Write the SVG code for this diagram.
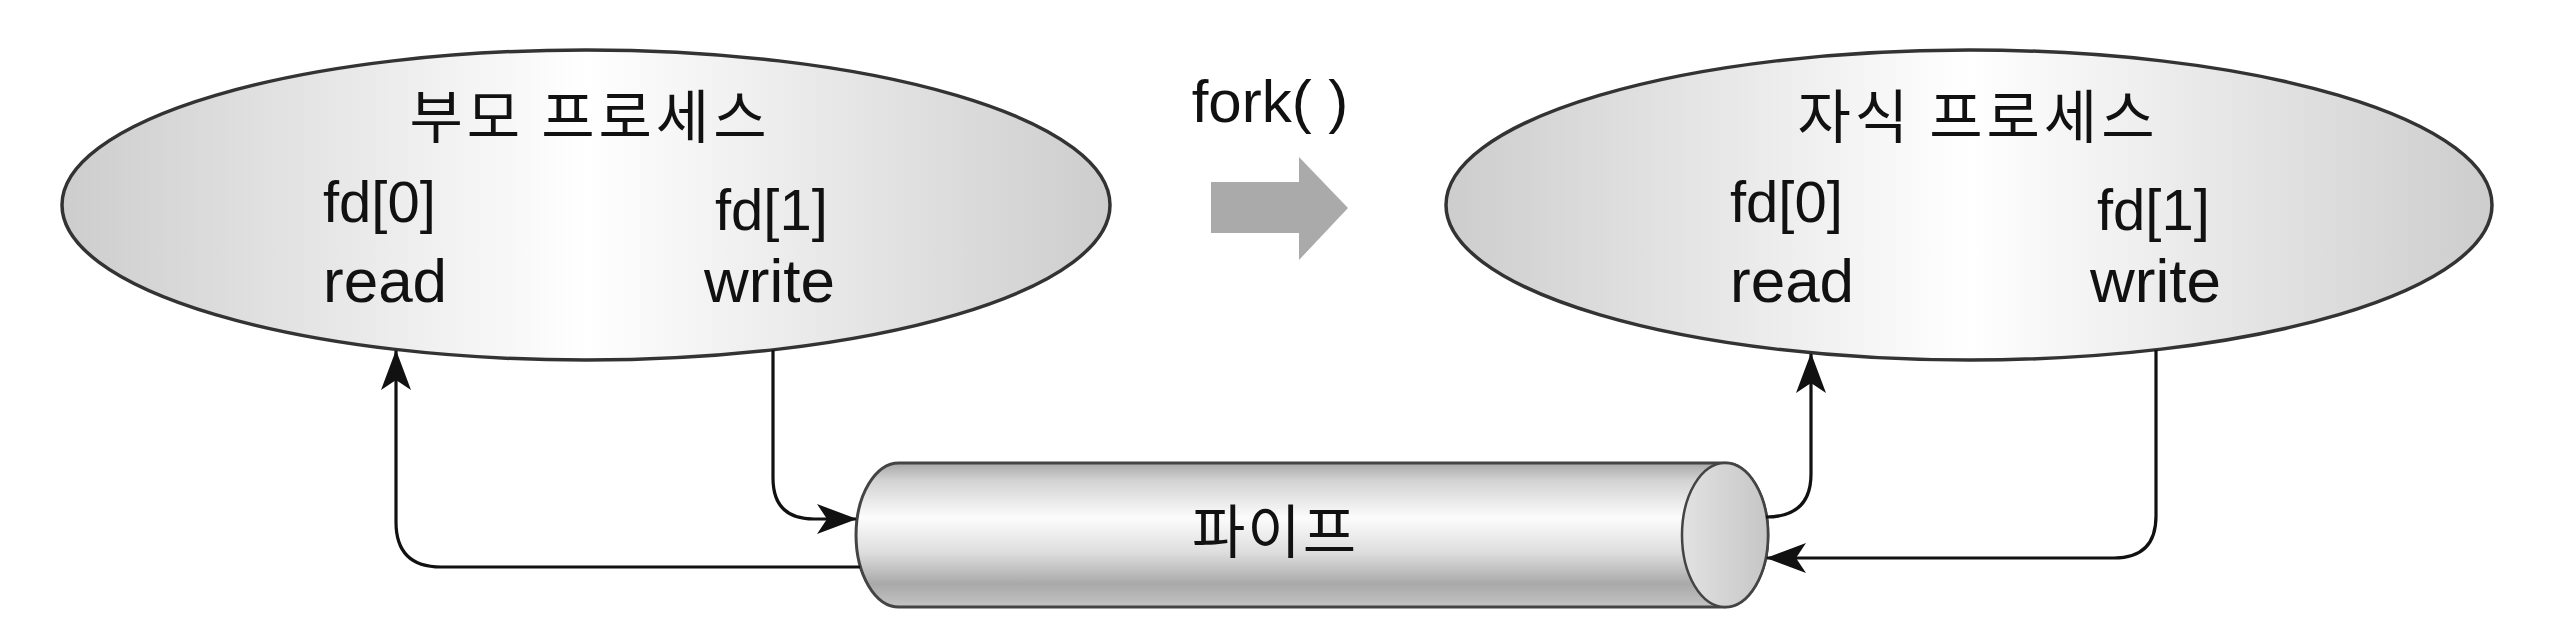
<svg xmlns="http://www.w3.org/2000/svg" width="2560" height="632" viewBox="0 0 2560 632">
<style>
.lat{font-family:"Liberation Sans",Arial,sans-serif;fill:#111}
.kr{font-family:"Noto Sans CJK KR","Noto Sans",sans-serif;fill:#111;font-size:58px;letter-spacing:2px;text-anchor:middle}
.title{letter-spacing:4px}
.fd{font-size:58px}
.rw{font-size:62px}
.proc{stroke:#333;stroke-width:3.5}
.conn{fill:none;stroke:#111;stroke-width:3.2}
</style>
<defs>
<linearGradient id="procGrad" x1="0" y1="0" x2="1" y2="0">
<stop offset="0" stop-color="#cdcdcd"/>
<stop offset="0.5" stop-color="#ffffff"/>
<stop offset="1" stop-color="#cdcdcd"/>
</linearGradient>
<linearGradient id="pipeGrad" x1="0" y1="0" x2="0" y2="1">
<stop offset="0" stop-color="#a8a8a8"/>
<stop offset="0.12" stop-color="#d2d2d2"/>
<stop offset="0.38" stop-color="#fcfcfc"/>
<stop offset="0.62" stop-color="#dedede"/>
<stop offset="0.84" stop-color="#a9a9a9"/>
<stop offset="1" stop-color="#c4c4c4"/>
</linearGradient>
<linearGradient id="capGrad" x1="0" y1="0" x2="1" y2="0">
<stop offset="0" stop-color="#e2e2e2"/>
<stop offset="1" stop-color="#c6c6c6"/>
</linearGradient>
<marker id="arr" viewBox="0 0 40 30" refX="39" refY="15" markerWidth="40" markerHeight="32" markerUnits="userSpaceOnUse" orient="auto">
<path d="M0,0 L40,15 L0,30 L10,15 Z" fill="#111"/>
</marker>
</defs>

<g id="parent">
<ellipse class="proc" cx="586" cy="205" rx="524" ry="155" fill="url(#procGrad)"/>
<text class="kr title" x="590" y="138">부모 프로세스</text>
<text class="lat fd" x="323" y="222">fd[0]</text>
<text class="lat fd" x="715" y="230">fd[1]</text>
<text class="lat rw" x="323" y="302">read</text>
<text class="lat rw" x="704" y="302">write</text>
</g>

<g id="child">
<ellipse class="proc" cx="1969" cy="205" rx="523" ry="155" fill="url(#procGrad)"/>
<text class="kr title" x="1978" y="138">자식 프로세스</text>
<text class="lat fd" x="1730" y="222">fd[0]</text>
<text class="lat fd" x="2097" y="230">fd[1]</text>
<text class="lat rw" x="1730" y="302">read</text>
<text class="lat rw" x="2090" y="302">write</text>
</g>

<g id="fork">
<text class="lat" x="1270" y="122" font-size="60" text-anchor="middle" fill="#222">fork( )</text>
<polygon points="1211,182 1299,182 1299,157 1348,208 1299,260 1299,233 1211,233" fill="#aaaaaa"/>
</g>

<g id="pipe">
<path d="M899,463 L1725,463 A43,72 0 0 1 1725,607 L899,607 A43,72 0 0 1 899,463 Z" fill="url(#pipeGrad)" stroke="#444" stroke-width="3"/>
<ellipse cx="1725" cy="535" rx="43" ry="72" fill="url(#capGrad)" stroke="#444" stroke-width="2.5"/>
<text class="kr" x="1275" y="553">파이프</text>
</g>

<g id="connectors">
<path class="conn" d="M773,350 L773,478 Q773,519 814,519 L856,519" marker-end="url(#arr)"/>
<path class="conn" d="M860,567 L441,567 Q396,567 396,522 L396,351" marker-end="url(#arr)"/>
<path class="conn" d="M1766,517 Q1811,517 1811,474 L1811,354" marker-end="url(#arr)"/>
<path class="conn" d="M2156,350 L2156,516 Q2156,558 2114,558 L1767,558" marker-end="url(#arr)"/>
</g>
</svg>
